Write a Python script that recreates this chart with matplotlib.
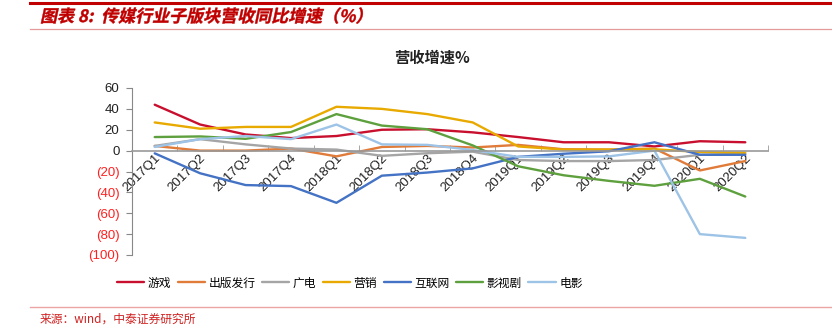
import matplotlib
matplotlib.use("Agg")
import matplotlib.pyplot as plt
from matplotlib.textpath import TextPath
from matplotlib.patches import PathPatch
from matplotlib.font_manager import FontProperties
from matplotlib.transforms import Affine2D, ScaledTranslation

plt.rcParams['font.family'] = ['Liberation Sans', 'Noto Sans CJK SC', 'DejaVu Sans']

# quarters on the x axis
quarters = ['2017Q1', '2017Q2', '2017Q3', '2017Q4', '2018Q1', '2018Q2', '2018Q3',
            '2018Q4', '2019Q1', '2019Q2', '2019Q3', '2019Q4', '2020Q1', '2020Q2']

# revenue growth yoy (%) per sub-sector
games = [44, 25, 15.5, 12, 14, 20, 20.5, 17.5, 13, 8, 8, 4, 9, 8]
publishing = [4.5, 0, 0, 2, -5.5, 3.5, 4.5, 3, 5.5, 1.3, 1, 2, -19, -10]
broadcast = [4.5, 11, 6, 2, 1, -5, -2.5, -1, -9, -10, -10, -9, -4, -3]
marketing = [27, 21, 22.7, 22.7, 42, 40, 35, 27, 4, 1, 1, 1.3, -1.3, -2]
internet = [-2.6, -21.7, -33, -34, -50, -24, -21, -17, -6, -3, -0.6, 8, -4, -4]
drama = [13, 13.6, 11.3, 17.8, 35, 24, 20.5, 5, -15, -23.6, -29, -33.7, -27, -44]
film = [3.5, 11, 14, 11, 25, 6, 5.5, 0.6, -6, -6, -5.5, 0, -80, -83.6]

names = ['游戏', '出版发行', '广电', '营销', '互联网', '影视剧', '电影']
series = [games, publishing, broadcast, marketing, internet, drama, film]
colors = ['#C8102E', '#E07B39', '#A5A5A5', '#E8AA00', '#4472C4', '#5EA03E', '#9DC3E6']

y_ticks = [60, 40, 20, 0, -20, -40, -60, -80, -100]

W, H = 832, 333
fig = plt.figure(figsize=(W / 100, H / 100), dpi=100)

# page decorations: red rules and the figure caption
fig.add_artist(plt.Line2D([30 / W, 1], [1 - 2.5 / H, 1 - 2.5 / H], color='#C00000', lw=2.2))
fig.add_artist(plt.Line2D([30 / W, 1], [1 - 29 / H, 1 - 29 / H], color='#E39A9A', lw=0.9))
fig.add_artist(plt.Line2D([30 / W, 1], [1 - 306.5 / H, 1 - 306.5 / H], color='#EBA5A5', lw=1.0))

# slanted (italic-looking) caption drawn as a path in pixel coordinates
cap_prop = FontProperties(family='Noto Sans CJK SC', weight='bold')
cap_path = TextPath((0, 0), '图表 8:  传媒行业子版块营收同比增速（%）', size=17, prop=cap_prop)
cap_tr = Affine2D().skew_deg(12, 0).translate(40, H - 22)
patch = PathPatch(cap_path, facecolor='#C00000', edgecolor='#C00000', lw=0.3,
                  transform=cap_tr, figure=fig)
fig.patches.append(patch)

fig.text(40 / W, 1 - 319 / H, '来源：wind，中泰证券研究所', color='#D02020', fontsize=8.5,
         family=['Noto Sans CJK SC', 'DejaVu Sans'], va='center', ha='left')

fig.text(432 / W, 1 - 58 / H, '营收增速%', fontsize=11, fontweight='bold',
         family=['Noto Sans CJK SC', 'DejaVu Sans'], ha='center', va='center', color='#222222')

# plot area
left, right, top, bottom = 132, 768, 88, 255
ax = fig.add_axes([left / W, 1 - bottom / H, (right - left) / W, (bottom - top) / H])
x = list(range(len(quarters)))
lines = []
for name, vals, c in zip(names, series, colors):
    ln, = ax.plot(x, vals, color=c, lw=1.7, label=name, solid_capstyle='round')
    lines.append(ln)

ax.set_xlim(-0.5, len(quarters) - 0.5)
ax.set_ylim(-100, 60)
ax.set_yticks(y_ticks)
ax.set_yticklabels([str(v) if v >= 0 else '(%d)' % -v for v in y_ticks], fontsize=9.5)
for lab, v in zip(ax.get_yticklabels(), y_ticks):
    lab.set_color('#FF2020' if v < 0 else '#222222')
ax.tick_params(axis='y', direction='out', length=4, color='#888888', pad=5)

for s in ['top', 'right']:
    ax.spines[s].set_visible(False)
ax.spines['left'].set_color('#888888')
ax.spines['bottom'].set_position(('data', 0))
ax.spines['bottom'].set_color('#999999')
ax.spines['bottom'].set_linewidth(1.2)

ax.set_xticks(x)
ax.set_xticks([i - 0.5 for i in range(len(quarters) + 1)], minor=True)
ax.tick_params(axis='x', which='major', length=0, pad=1)
ax.tick_params(axis='x', which='minor', direction='in', length=4, color='#999999')
ax.set_xticklabels(quarters, rotation=45, ha='right', va='top', fontsize=9.5, color='#222222')
off = ScaledTranslation(8 / 100, 0, fig.dpi_scale_trans)
for lab in ax.get_xticklabels():
    lab.set_transform(lab.get_transform() + off)

fig.legend(handles=lines, labels=names, loc='center', ncol=7,
           bbox_to_anchor=(350 / W, 1 - 283 / H), frameon=False,
           prop=FontProperties(family=['Noto Sans CJK SC', 'DejaVu Sans'], size=8.5),
           handlelength=2.3, handletextpad=0.3, columnspacing=0.55)

fig.savefig('out.png', dpi=100)
